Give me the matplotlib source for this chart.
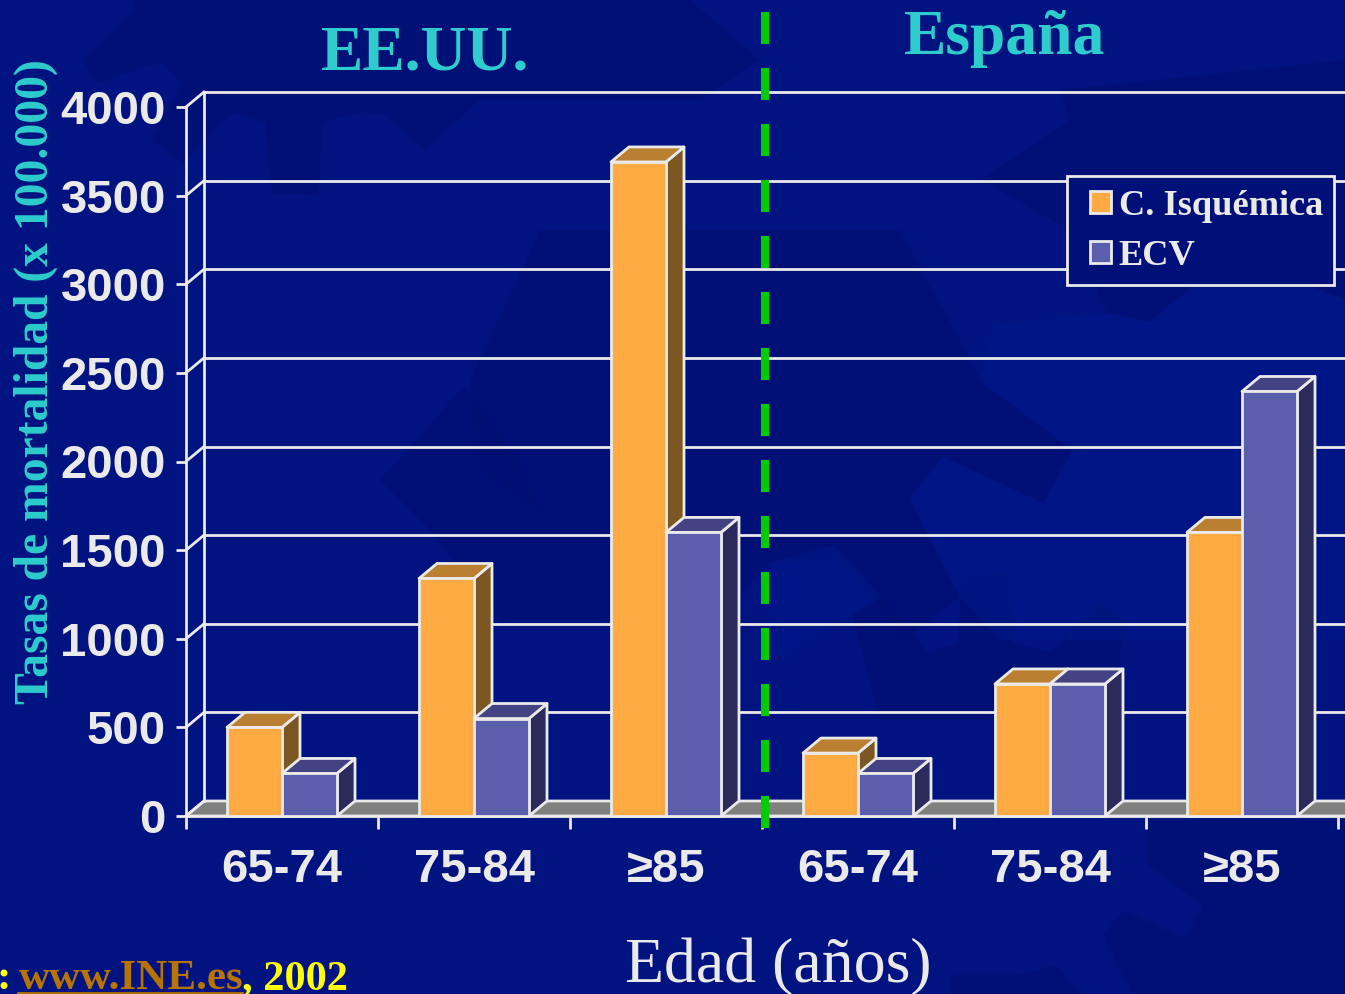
import matplotlib
matplotlib.use("Agg")
import matplotlib.pyplot as plt
from matplotlib.patches import Patch, Polygon, Rectangle

W, H = 1345, 994

# data
groups = ["65-74", "75-84", "≥85", "65-74", "75-84", "≥85"]
isquemica = [500, 1340, 3690, 355, 745, 1600]
ecv = [240, 550, 1600, 240, 745, 2395]
yticks = [0, 500, 1000, 1500, 2000, 2500, 3000, 3500, 4000]

TEXT = "#EAEAEA"
TEAL = "#2ECCCC"
BG = "#001380"
DARK = "#000F6E"
LIGHT = "#00188A"
ORANGE = ("#FFAA42", "#7D5722", "#BA7F30")
BLUE = ("#5A5EAC", "#2B2B5B", "#434383")

SLOT = 192.0   # px per category
PX_Y = 709 / 4000.0
DX = 18 / SLOT
DY = 15 / PX_Y
BAR_W = 55 / SLOT
LW = 2.0

fig = plt.figure(figsize=(W / 100, H / 100), dpi=100, facecolor=BG)

# slide background shapes, pixel coords
bg = fig.add_axes([0, 0, 1, 1], zorder=0)
bg.set_xlim(0, W)
bg.set_ylim(H, 0)
bg.axis("off")
dark = [
    [(82, 60), (133, 12), (133, 0), (690, 0), (760, 60), (700, 100), (480, 100), (425, 150), (385, 115),
     (362, 112), (323, 122), (318, 195), (272, 193), (265, 123), (233, 113), (182, 163), (152, 140),
     (182, 83), (160, 62), (97, 83)],
    [(540, 230), (900, 230), (983, 383), (1073, 450), (1043, 503), (943, 457), (910, 498), (960, 597),
     (905, 640), (840, 560), (770, 562), (700, 640), (600, 620), (500, 620), (540, 510), (480, 470), (470, 380)],
    [(852, 615), (882, 597), (910, 627), (927, 652), (958, 643), (961, 577), (1008, 573), (1013, 643),
     (1050, 652), (1100, 603), (1128, 620), (1120, 653), (1120, 720), (880, 720)],
    [(1150, 820), (1147, 865), (1203, 906), (1184, 938), (1123, 910), (1103, 935), (1132, 994), (1345, 994), (1345, 820)],
    [(950, 975), (1017, 975), (1056, 965), (1082, 994), (950, 994)],
    [(980, 180), (1070, 120), (1060, 90), (1345, 60), (1345, 300), (1230, 255), (1150, 322), (1107, 313), (1070, 230)],
    [(380, 480), (465, 385), (520, 465), (540, 510), (500, 620), (430, 530)],
]
light = [
    [(993, 325), (1107, 313), (1150, 322), (1230, 255), (1345, 300), (1345, 640), (1000, 640), (960, 597),
     (910, 498), (943, 457), (1043, 503), (1073, 450), (983, 383)],
    [(770, 562), (834, 545), (882, 597), (770, 660)],
]
for pts in dark:
    bg.add_patch(Polygon(pts, fc=DARK, ec="none", alpha=0.5))
for pts in light:
    bg.add_patch(Polygon(pts, fc=LIGHT, ec="none", alpha=0.5))

ax = fig.add_axes([186 / W, (H - 816) / H, (W - 186) / W, 709 / H], zorder=1)
ax.patch.set_visible(False)
ax.set_xlim(0, (W - 186) / SLOT)
ax.set_ylim(0, 4000)
for s in ("top", "right"):
    ax.spines[s].set_visible(False)
for s in ("left", "bottom"):
    ax.spines[s].set_color(TEXT)
    ax.spines[s].set_linewidth(LW)
xmax = ax.get_xlim()[1]

# floor and back wall
ax.add_patch(Polygon([(0, 0), (DX, DY), (xmax + 1, DY), (xmax + 1, 0)],
                     fc="#808080", ec=TEXT, lw=LW, zorder=1, clip_on=False))
ax.plot([DX, DX], [DY, 4000 + DY], color=TEXT, lw=LW, zorder=1, clip_on=False)
for v in yticks:
    ax.plot([0, DX], [v, v + DY], color=TEXT, lw=LW, zorder=1, clip_on=False)
    if v > 0:
        ax.plot([DX, xmax], [v + DY, v + DY], color=TEXT, lw=LW, zorder=1, clip_on=False)


def bar3d(x, val, colors, z):
    front, side, top = colors
    r = x + BAR_W
    ax.add_patch(Polygon([(r, 0), (r + DX, DY), (r + DX, val + DY), (r, val)],
                         fc=side, ec=TEXT, lw=LW, joinstyle="round", zorder=z, clip_on=False))
    ax.add_patch(Polygon([(x, val), (x + DX, val + DY), (r + DX, val + DY), (r, val)],
                         fc=top, ec=TEXT, lw=LW, joinstyle="round", zorder=z, clip_on=False))
    ax.add_patch(Rectangle((x, 0), BAR_W, val, fc=front, ec=TEXT, lw=LW, zorder=z + 0.1, clip_on=False))


centers = [i + 0.5 for i in range(len(groups))]
for c, a, b in zip(centers, isquemica, ecv):
    bar3d(c - BAR_W, a, ORANGE, 3)
    bar3d(c, b, BLUE, 3.5)

ax.set_yticks(yticks)
ax.set_yticklabels([str(v) for v in yticks])
ax.set_xticks(range(7))
ax.set_xticklabels([])
ax.set_xticks(centers, minor=True)
ax.set_xticklabels(groups, minor=True)
ax.tick_params(axis="y", colors=TEXT, length=7.5, width=LW, pad=7)
ax.tick_params(axis="x", which="major", colors=TEXT, length=9.5, width=LW)
ax.tick_params(axis="x", which="minor", length=0, pad=23, colors=TEXT)
for lab in ax.get_yticklabels() + ax.get_xticklabels(minor=True):
    lab.set_fontfamily("Liberation Sans")
    lab.set_fontweight("bold")
    lab.set_fontsize(34)

# dashed separator: 32 px on, 24 px off, 8 px wide
fig.add_artist(plt.Line2D([765 / W, 765 / W], [1 - 12 / H, 1 - 828 / H], color="#00CC00",
                          lw=5.76, dashes=(4, 3), zorder=5))

serif = "Liberation Serif"
fig.text(425 / W, 1 - 70 / H, "EE.UU.", color=TEAL, family=serif, weight="bold",
         fontsize=45.7, ha="center", va="baseline", zorder=6)
fig.text(1005 / W, 1 - 54 / H, "España", color=TEAL, family=serif, weight="bold",
         fontsize=45.8, ha="center", va="baseline", zorder=6)
fig.text(36 / W, 1 - 381.5 / H, "Tasas de mortalidad (x 100.000)", color=TEAL, family=serif,
         weight="bold", fontsize=34.3, rotation=90, ha="center", va="center", zorder=6)
fig.text(778 / W, 1 - 982 / H, "Edad (años)", color=TEXT, family=serif,
         fontsize=46, ha="center", va="baseline", zorder=6)

# source line, cut off at the left edge as in the slide
fig.text(-4 / W, 1 - 989 / H, ":", color="#FFFF00", family=serif, weight="bold",
         fontsize=31, va="baseline", zorder=6)
fig.text(19 / W, 1 - 989 / H, "www.INE.es", color="#B87400", family=serif, weight="bold",
         fontsize=31, va="baseline", zorder=6)
fig.add_artist(plt.Line2D([18 / W, 242 / W], [1 - 992.5 / H, 1 - 992.5 / H], color="#B87400", lw=2, zorder=6))
fig.text(242 / W, 1 - 989 / H, ", 2002", color="#FFFF00", family=serif, weight="bold",
         fontsize=30.5, va="baseline", zorder=6)

# legend box drawn apart so the left padding can differ from the right
ax.add_patch(Rectangle((1067 / W, 1 - 285 / H), 267 / W, 109 / H, transform=fig.transFigure,
                       fc="#001078", ec=TEXT, lw=LW, zorder=4, clip_on=False))
handles = [Patch(fc=ORANGE[0], ec=TEXT, lw=LW, label="C. Isquémica"),
           Patch(fc=BLUE[0], ec=TEXT, lw=LW, label="ECV")]
leg = ax.legend(handles=handles, loc="upper left", bbox_to_anchor=(1090 / W, 1 - 190 / H),
                bbox_transform=fig.transFigure, frameon=False, borderaxespad=0, borderpad=0,
                handlelength=0.57, handleheight=0.57, handletextpad=0.22, labelspacing=0.47,
                prop={"family": serif, "weight": "bold", "size": 26.2})
leg.set_zorder(5)
for t in leg.get_texts():
    t.set_color(TEXT)

fig.savefig("out.png", dpi=100, facecolor=BG)
